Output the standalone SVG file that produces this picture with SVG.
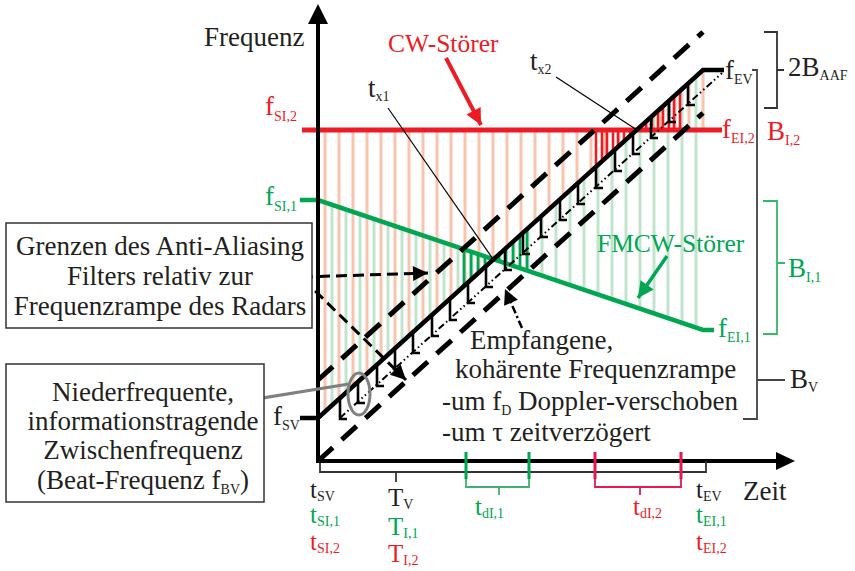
<svg xmlns="http://www.w3.org/2000/svg" width="855" height="571" viewBox="0 0 855 571">
<defs>
<style>
text{font-family:"Liberation Serif","Times New Roman",serif;font-size:27px;fill:#231f20}
.s{font-size:14px}
.st{font-size:25px}
.red{fill:#ed1c24}
.grn{fill:#00a651}
.lo{stroke:#f8c4ae;stroke-width:3;fill:none}
.lg{stroke:#c2e3cd;stroke-width:3;fill:none}
.so{stroke:#ed1c24;stroke-width:2.6;fill:none}
.sg{stroke:#00a651;stroke-width:2.8;fill:none}
.aaf{stroke:#000;stroke-width:5;stroke-dasharray:20 12;fill:none}
.thin{stroke:#000;stroke-width:1.2;fill:none}
.brk{stroke:#333;stroke-width:1.8;fill:none}
</style>
<marker id="ak" viewBox="0 0 10 10" refX="10" refY="5" markerWidth="17" markerHeight="15" markerUnits="userSpaceOnUse" orient="auto"><path d="M0,0L10,5L0,10z" fill="#000"/></marker>
<marker id="ar" viewBox="0 0 10 10" refX="10" refY="5" markerWidth="17" markerHeight="16" markerUnits="userSpaceOnUse" orient="auto"><path d="M0,0L10,5L0,10z" fill="#ed1c24"/></marker>
<marker id="ag" viewBox="0 0 10 10" refX="10" refY="5" markerWidth="17" markerHeight="16" markerUnits="userSpaceOnUse" orient="auto"><path d="M0,0L10,5L0,10z" fill="#00a651"/></marker>
</defs>
<rect width="855" height="571" fill="#fff"/>

<g id="stripes">
<path class="lo" d="M325 130V411.7M339 130V399M353 130V386.4M367 130V373.7M381 130V361.1M395 130V348.4M409 130V335.7M423 130V323.1M437 130V310.4M451 130V297.8M465 130V285.1M479 130V272.5M493 130V259.8M507 130V247.2M521 130V234.5M535 130V221.8M549 130V209.2M563 130V196.5M577 130V183.9M591 130V171.2M605 130V158.6M619 130V145.9M633 130V133.3M647 130V120.6M661 130V108M675 130V95.3M689 130V82.6M703 130V70"/>
<path class="lg" d="M332 204.7V405.3M346 209.5V392.7M360 214.2V380M374 218.9V367.4M388 223.6V354.7M402 228.4V342.1M416 233.1V329.4M430 237.8V316.8M444 242.5V304.1M458 247.3V291.5M472 252V278.8M486 256.7V266.2M500 261.5V253.5M514 266.2V240.9M528 270.9V228.2M542 275.6V215.6M556 280.4V202.9M570 285.1V190.2M584 289.8V177.6M598 294.5V164.9M612 299.3V152.3M626 304V139.6M640 308.7V127M654 313.5V114.3M668 318.2V101.7M682 322.9V89M696 327.6V76.4"/>
<path class="sg" d="M464 249.3V286M471 251.7V279.7M478 254V273.4M485 256.4V267M492 258.8V260.7M499 261.1V254.4M506 263.5V248.1M513 265.8V241.7M520 268.2V235.4M527 270.6V229.1"/>
<path class="so" d="M596 130V166.7M602 130V161.3M607 130V156.8M613 130V151.3M618 130V146.8M624 130V141.4M630 130V136M641 130V126M646 130V121.5M652 130V116.1M658 130V110.7M663 130V106.2M669 130V100.7M674 130V96.2M680 130V90.8"/>
</g>

<g id="interferers">
<polyline points="302,130 722,130" fill="none" stroke="#ed1c24" stroke-width="5"/>
<polyline points="300,200 318,200 703,330 714,330" fill="none" stroke="#00a651" stroke-width="4.5"/>
</g>

<g id="ramps">
<line class="aaf" x1="318" y1="380" x2="703" y2="32"/>
<line class="aaf" x1="318" y1="461" x2="703" y2="113"/>
<polyline points="300,418 318,418 703,70 724,70" fill="none" stroke="#000" stroke-width="4.5"/>
<line x1="340" y1="418" x2="722" y2="73" stroke="#000" stroke-width="2" stroke-dasharray="7 3 1.5 3 1.5 3"/>
<path fill="none" stroke="#000" stroke-width="2.6" d="M340 398V419H347M358 382V403H365M377 365V386H384M395 348V369H402M413 332V353H420M432 315V336H439M450 299V320H457M468 282V303H475M486 266V287H493M505 249V270H512M523 233V254H530M541 216V237H548M560 199V220H567M578 183V204H585M596 167V188H603M615 150V171H622M633 133V154H640M651 117V138H658M669 101V122H676M688 84V105H695"/>
</g>

<g id="axes">
<line x1="318" y1="463" x2="318" y2="20" stroke="#000" stroke-width="4"/>
<polygon points="308,24 318,4 328,24" fill="#000"/>
<line x1="316" y1="461" x2="780" y2="461" stroke="#000" stroke-width="4"/>
<polygon points="776,452 795,461 776,470" fill="#000"/>
<path class="brk" d="M320 463V472H706V461M396 472V482"/>
<path d="M466 452V479M529 452V479" stroke="#00a651" stroke-width="3"/>
<path d="M466 479V487H529V479M499 487V495" fill="none" stroke="#3cb371" stroke-width="1.8"/>
<path d="M595 452V479M681 452V479" stroke="#e8174e" stroke-width="3"/>
<path d="M595 479V487H681V479M640 487V495" fill="none" stroke="#e8174e" stroke-width="1.8"/>
</g>

<g id="brackets">
<path class="brk" d="M764 32H777V108H764M777 70H784"/>
<path d="M752 70H757V419H743M757 380H785" fill="none" stroke="#444" stroke-width="1.8"/>
<path d="M763 201H777V334H763M777 263H785" fill="none" stroke="#33b86a" stroke-width="1.8"/>
</g>

<g id="connectors">
<line x1="446" y1="58" x2="481" y2="125" stroke="#ed1c24" stroke-width="4" marker-end="url(#ar)"/>
<line x1="667" y1="256" x2="638" y2="298" stroke="#00a651" stroke-width="3.5" marker-end="url(#ag)"/>
<line class="thin" x1="388" y1="108" x2="493" y2="259"/>
<line class="thin" x1="556" y1="77" x2="637" y2="130"/>
<line x1="302" y1="277" x2="428" y2="273" stroke="#000" stroke-width="3" stroke-dasharray="11 6" marker-end="url(#ak)"/>
<line x1="303" y1="279" x2="406" y2="380" stroke="#000" stroke-width="3" stroke-dasharray="11 6" marker-end="url(#ak)"/>
<line x1="522" y1="328" x2="505" y2="289" stroke="#000" stroke-width="2.5" stroke-dasharray="8 3 2 3" marker-end="url(#ak)"/>
<line x1="244" y1="401" x2="349" y2="384" stroke="#808080" stroke-width="3"/>
<ellipse cx="359" cy="394" rx="11" ry="21" fill="none" stroke="#808080" stroke-width="3"/>
</g>

<g id="box-aaf">
<rect x="6" y="223" width="306" height="105" fill="#fff" stroke="#333" stroke-width="1.5"/>
<text x="160" y="255" text-anchor="middle">Grenzen des Anti-Aliasing</text>
<text x="160" y="285" text-anchor="middle">Filters relativ zur</text>
<text x="160" y="315" text-anchor="middle">Frequenzrampe des Radars</text>
</g>

<g id="box-beat">
<rect x="6" y="364" width="258" height="138" fill="#fff" stroke="#333" stroke-width="1.5"/>
<text x="143" y="401" text-anchor="middle">Niederfrequente,</text>
<text x="143" y="430" text-anchor="middle">informationstragende</text>
<text x="143" y="459" text-anchor="middle">Zwischenfrequenz</text>
<text x="143" y="489" text-anchor="middle">(Beat-Frequenz f<tspan class="s" dy="5">BV</tspan><tspan dy="-5">)</tspan></text>
</g>

<g id="received-label">
<text x="470" y="349">Empfangene,</text>
<text x="455" y="378">kohärente Frequenzrampe</text>
<text x="442" y="410">-um f<tspan class="s" dy="5">D</tspan><tspan dy="-5"> Doppler-verschoben</tspan></text>
<text x="442" y="441">-um τ zeitverzögert</text>
</g>

<g id="labels">
<text x="204" y="46">Frequenz</text>
<text x="743" y="500">Zeit</text>
<text x="388" y="52" class="red" style="font-size:25.5px">CW-Störer</text>
<text x="597" y="252" class="grn" style="font-size:25.5px">FMCW-Störer</text>
<text x="368" y="97">t<tspan class="s" dy="4">x1</tspan></text>
<text x="530" y="70">t<tspan class="s" dy="4">x2</tspan></text>
<text x="265" y="115" class="red">f<tspan class="s" dy="6">SI,2</tspan></text>
<text x="265" y="205" class="grn">f<tspan class="s" dy="6">SI,1</tspan></text>
<text x="273" y="425">f<tspan class="s" dy="5">SV</tspan></text>
<text x="725" y="79">f<tspan class="s" dy="5">EV</tspan></text>
<text x="722" y="138" class="red">f<tspan class="s" dy="5">EI,2</tspan></text>
<text x="767" y="140" class="red">B<tspan class="s" dy="5">I,2</tspan></text>
<text x="718" y="337" class="grn">f<tspan class="s" dy="5">EI,1</tspan></text>
<text x="788" y="76">2B<tspan class="s" dy="4">AAF</tspan></text>
<text x="788" y="277" class="grn">B<tspan class="s" dy="5">I,1</tspan></text>
<text x="790" y="388">B<tspan class="s" dy="4">V</tspan></text>
<text x="310" y="498" class="st">t<tspan class="s" dy="3">SV</tspan></text>
<text x="310" y="523" class="st grn">t<tspan class="s" dy="3">SI,1</tspan></text>
<text x="310" y="550" class="st red">t<tspan class="s" dy="3">SI,2</tspan></text>
<text x="388" y="506" class="st">T<tspan class="s" dy="3">V</tspan></text>
<text x="388" y="535" class="st grn">T<tspan class="s" dy="3">I,1</tspan></text>
<text x="388" y="562" class="st red">T<tspan class="s" dy="3">I,2</tspan></text>
<text x="475" y="515" class="st grn">t<tspan class="s" dy="3">dI,1</tspan></text>
<text x="633" y="515" class="st red">t<tspan class="s" dy="3">dI,2</tspan></text>
<text x="696" y="498" class="st">t<tspan class="s" dy="3">EV</tspan></text>
<text x="696" y="523" class="st grn">t<tspan class="s" dy="3">EI,1</tspan></text>
<text x="696" y="550" class="st red">t<tspan class="s" dy="3">EI,2</tspan></text>
</g>
</svg>
